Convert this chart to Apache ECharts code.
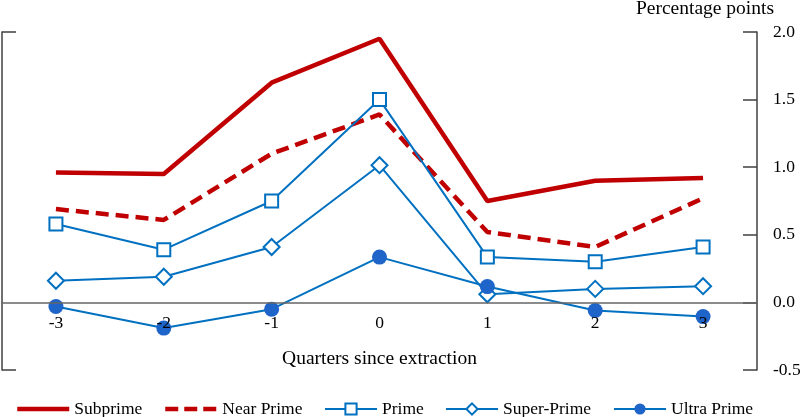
<!DOCTYPE html>
<html><head><meta charset="utf-8">
<script src="https://cdn.jsdelivr.net/npm/echarts@6/dist/echarts.min.js"></script>
<style>html,body{margin:0;padding:0;background:#fff}#c{width:800px;height:417px}</style>
</head><body><div id="c"></div>
<script>
var categories = ['-3','-2','-1','0','1','2','3'];
var subprime   = [0.96, 0.95, 1.625, 1.95, 0.75, 0.90, 0.92];
var nearPrime  = [0.69, 0.61, 1.10, 1.39, 0.52, 0.41, 0.77];
var prime      = [0.58, 0.39, 0.75, 1.50, 0.335, 0.30, 0.41];
var superPrime = [0.16, 0.19, 0.41, 1.015, 0.06, 0.10, 0.12];
var ultraPrime = [-0.03, -0.19, -0.05, 0.335, 0.117, -0.06, -0.105];
var seriesNames = ['Subprime','Near Prime','Prime','Super-Prime','Ultra Prime'];
var yTitle = 'Percentage points';
var xTitle = 'Quarters since extraction';
var yMin = -0.5, yMax = 2.0;

var FONT = 'Liberation Serif';
var RED = '#C00000', BLUE = '#0070C0', DOT = '#1F64C8';
var GRID_TOP = 32, GRID_BOTTOM = 47, H = 417;
var plotH = H - GRID_TOP - GRID_BOTTOM;
var zeroShift = plotH * (0 - yMin) / (yMax - yMin); // distance from bottom of grid to zero
var chart = echarts.init(document.getElementById('c'), null, {renderer:'canvas'});
var legendLeft = [15, 163, 324, 445, 613];
var legendLine = [
  {width:4.5, color:RED}, {width:4.5, color:RED, type:[13,6]},
  {width:2, color:BLUE}, {width:2, color:BLUE}, {width:2, color:BLUE}];
var legends = seriesNames.map(function(n, i){
  var item = {name:n};
  if (i < 2) item.itemStyle = {opacity:0};
  return {data:[item], left:legendLeft[i], top:400, padding:0, itemWidth:52, itemHeight:14,
    lineStyle:legendLine[i],
    textStyle:{fontFamily:FONT, fontSize:17.5, color:'#000'}};
});
chart.setOption({
  animation:false,
  title:{text:yTitle, right:26, top:-1, padding:0,
    textStyle:{fontFamily:FONT, fontSize:19.5, fontWeight:'normal', color:'#000'}},
  legend:legends,
  grid:{left:2, right:43, top:GRID_TOP, bottom:GRID_BOTTOM, containLabel:false, outerBoundsMode:'none'},
  xAxis:{type:'category', data:categories, boundaryGap:true, position:'bottom', offset:-zeroShift, z:10,
    axisLine:{onZero:false, lineStyle:{color:'#666', width:1.5}},
    axisTick:{show:false},
    axisLabel:{fontFamily:FONT, fontSize:17.5, color:'#000', margin:12},
    name:xTitle, nameLocation:'middle', nameGap:46,
    nameTextStyle:{fontFamily:FONT, fontSize:19.5, color:'#000'}},
  yAxis:[
    {type:'value', position:'right', min:yMin, max:yMax, interval:0.5,
     axisLine:{show:true, lineStyle:{color:'#404040', width:1.5}},
     axisTick:{show:true, inside:true, length:14, lineStyle:{color:'#404040', width:1.5}},
     axisLabel:{fontFamily:FONT, fontSize:17.5, color:'#000', margin:16,
       formatter:function(v){return v.toFixed(1);}},
     splitLine:{show:false}},
    {type:'value', position:'left', min:yMin, max:yMax, interval:2.5,
     axisLine:{show:true, lineStyle:{color:'#404040', width:1.5}},
     axisTick:{show:true, inside:true, length:14, lineStyle:{color:'#404040', width:1.5}},
     axisLabel:{show:false}, splitLine:{show:false}}
  ],
  series:[
    {name:seriesNames[0], type:'line', data:subprime, symbol:'none', color:RED,
     lineStyle:{color:RED, width:4.5}, z:3},
    {name:seriesNames[1], type:'line', data:nearPrime, symbol:'none', color:RED,
     lineStyle:{color:RED, width:4.5, type:[13,7]}, z:3},
    {name:seriesNames[2], type:'line', data:prime, symbol:'rect', symbolSize:13, color:BLUE,
     lineStyle:{color:BLUE, width:2}, itemStyle:{color:'#fff', borderColor:BLUE, borderWidth:2}, z:4},
    {name:seriesNames[3], type:'line', data:superPrime, symbol:'diamond', symbolSize:16, color:BLUE,
     lineStyle:{color:BLUE, width:2}, itemStyle:{color:'#fff', borderColor:BLUE, borderWidth:2}, z:4},
    {name:seriesNames[4], type:'line', data:ultraPrime, symbol:'circle', symbolSize:15, color:DOT,
     lineStyle:{color:BLUE, width:2}, itemStyle:{color:DOT, borderColor:DOT, borderWidth:0}, z:5}
  ]
});
</script></body></html>
